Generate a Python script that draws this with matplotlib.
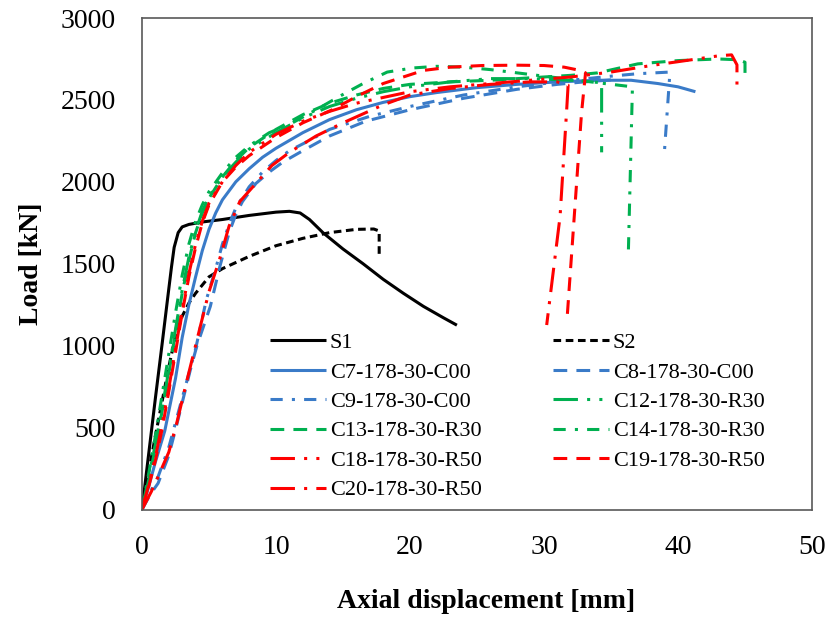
import numpy as np
import matplotlib.pyplot as plt

plt.rcParams['font.family'] = ['Liberation Serif', 'DejaVu Serif']

# curves: axial displacement [mm], load [kN]
s1_x = [0, 1, 1.5, 1.9, 2.2, 2.4, 2.7, 3, 3.5, 4.5, 6, 8, 10, 11, 11.8, 12.5, 13.5, 15, 16.5, 18, 19.5, 21, 22.5, 23.5]
s1_y = [0, 680, 1010, 1280, 1480, 1600, 1690, 1725, 1740, 1755, 1770, 1795, 1815, 1820, 1810, 1770, 1690, 1590, 1500, 1405, 1320, 1240, 1170, 1125]

s2_x = [0, 0.5, 1, 1.5, 2, 2.5, 3, 3.5, 4, 5, 6, 8, 10, 12, 14, 16, 17.3, 17.7, 17.7]
s2_y = [0, 230, 450, 660, 870, 1060, 1180, 1260, 1320, 1420, 1470, 1545, 1610, 1655, 1690, 1710, 1712, 1700, 1560]

c7_x = [0, 0.5, 1, 1.7, 2.5, 3, 3.5, 4, 4.5, 5, 5.5, 6, 7, 8, 9, 10, 12, 14, 16, 18, 20, 22, 25, 28, 31, 34, 36.5, 38.5, 40, 41.3]
c7_y = [0, 140, 290, 480, 800, 1050, 1250, 1420, 1580, 1710, 1810, 1890, 2000, 2080, 2150, 2205, 2300, 2380, 2440, 2485, 2520, 2545, 2575, 2595, 2610, 2620, 2620, 2600, 2580, 2550]

c8_x = [0, 0.6, 1.2, 2, 2.6, 3.6, 4.1, 5.1, 5.8, 6.5, 7, 7.5, 8.5, 9.5, 10.5, 12, 14, 16.7, 20, 24, 28, 31, 33, 35.5]
c8_y = [0, 90, 160, 330, 520, 850, 1000, 1240, 1480, 1690, 1800, 1880, 1990, 2060, 2120, 2190, 2280, 2370, 2440, 2510, 2565, 2595, 2610, 2625]

c9_x = [0, 0.7, 1.2, 2, 3, 4, 4.8, 5.5, 6, 6.5, 7, 8, 9, 10, 11, 12.2, 14, 17, 20, 24, 28, 32, 35, 37, 39.4, 39.0]
c9_y = [0, 120, 200, 380, 680, 980, 1280, 1470, 1620, 1740, 1840, 1970, 2060, 2130, 2190, 2240, 2320, 2400, 2460, 2530, 2580, 2620, 2645, 2660, 2670, 2200]

c12_x = [0, 0.5, 1, 1.5, 2, 2.5, 3, 3.5, 4, 4.5, 5, 6, 7, 8, 10, 12, 14, 16, 18, 20, 23, 26, 29, 32, 34.3, 34.3]
c12_y = [0, 200, 400, 620, 850, 1100, 1340, 1540, 1700, 1820, 1910, 2030, 2120, 2200, 2300, 2390, 2460, 2510, 2550, 2580, 2610, 2630, 2630, 2620, 2605, 2180]

c13_x = [0, 0.5, 1, 1.5, 2, 2.5, 3, 3.5, 4, 4.5, 5, 6, 7, 8, 10, 12, 14, 16, 18, 20, 23, 26, 29, 32, 34, 37, 40, 43, 44.5, 45, 45]
c13_y = [0, 180, 380, 600, 830, 1080, 1320, 1520, 1690, 1810, 1900, 2030, 2130, 2210, 2320, 2410, 2480, 2530, 2570, 2595, 2610, 2620, 2635, 2650, 2665, 2720, 2740, 2750, 2745, 2730, 2665]

c14_x = [0, 0.5, 1, 1.5, 2, 2.5, 3, 3.5, 4, 4.5, 5, 6, 7, 8, 9.5, 11, 13, 14.7, 16.5, 18.3, 20.2, 22, 24, 26, 28, 30, 32, 34, 36.6, 36.3]
c14_y = [0, 220, 450, 700, 950, 1200, 1430, 1620, 1760, 1860, 1940, 2055, 2150, 2220, 2300, 2350, 2440, 2520, 2600, 2670, 2695, 2705, 2700, 2685, 2665, 2645, 2625, 2605, 2580, 1585]

c18_x = [0, 0.5, 1, 1.5, 2, 2.5, 3, 3.5, 4, 4.5, 5, 6, 7, 8, 10, 12, 14, 16, 18, 20, 23, 26, 29, 32, 35, 38, 41, 43.1, 44, 44.4, 44.4]
c18_y = [0, 150, 320, 520, 740, 980, 1220, 1440, 1620, 1760, 1870, 2000, 2100, 2180, 2290, 2370, 2430, 2480, 2515, 2550, 2580, 2600, 2620, 2640, 2670, 2710, 2745, 2770, 2775, 2714, 2570]

c19_x = [0, 0.5, 1, 1.5, 2, 2.5, 3, 3.5, 4, 4.5, 5, 6, 7, 8, 10, 12, 14.2, 16, 18, 21, 23, 25.4, 28, 30, 31.5, 32.7, 33.1, 32.8, 31.7]
c19_y = [0, 140, 300, 490, 720, 960, 1200, 1420, 1600, 1750, 1860, 2000, 2090, 2160, 2270, 2360, 2440, 2520, 2600, 2680, 2700, 2710, 2712, 2710, 2700, 2680, 2665, 2420, 1140]

c20_x = [0, 0.7, 1.2, 2, 2.6, 3.3, 4.1, 5, 5.8, 6.5, 7.3, 8.5, 9.7, 11, 13, 15, 18, 20, 23, 26, 29, 31, 31.8, 31.7, 31.2, 30.2]
c20_y = [0, 110, 200, 350, 530, 770, 1035, 1330, 1530, 1730, 1880, 1990, 2100, 2180, 2280, 2360, 2470, 2530, 2570, 2595, 2610, 2610, 2590, 2450, 1790, 1126]

names = ['S1', 'S2', 'C7-178-30-C00', 'C8-178-30-C00', 'C9-178-30-C00',
         'C12-178-30-R30', 'C13-178-30-R30', 'C14-178-30-R30',
         'C18-178-30-R50', 'C19-178-30-R50', 'C20-178-30-R50']
xs = [s1_x, s2_x, c7_x, c8_x, c9_x, c12_x, c13_x, c14_x, c18_x, c19_x, c20_x]
ys = [s1_y, s2_y, c7_y, c8_y, c9_y, c12_y, c13_y, c14_y, c18_y, c19_y, c20_y]

blue = '#3A7BC8'
green = '#00B050'
red = '#FF0000'
solid = None
dash = (4.5, 3)
sqdot = (2.5, 1.5)
dashdot = (4, 3, 1, 3)
lddot = (8, 3, 1, 3, 1, 3)
ldash_dot = (8, 3, 1, 3)
colors = ['black', 'black', blue, blue, blue, green, green, green, red, red, red]
styles = [solid, sqdot, solid, dash, dashdot, lddot, dash, dashdot, lddot, dash, ldash_dot]

fig = plt.figure(figsize=(8.3, 6.21), dpi=100)
ax = fig.add_axes([142 / 830, 1 - 509.5 / 621, 670 / 830, 491.5 / 621])

lines = []
for name, x, y, c, st in zip(names, xs, ys, colors, styles):
    ln, = ax.plot(x, y, color=c, lw=2.2, label=name, solid_capstyle='butt')
    if st is not None:
        ln.set_dashes(st)
    lines.append(ln)

ax.set_xlim(0, 50)
ax.set_ylim(0, 3000)
ax.set_xticks(np.arange(0, 51, 10))
ax.set_yticks(np.arange(0, 3001, 500))
ax.tick_params(length=0, labelsize=20)
ax.tick_params(axis='x', pad=18)
ax.tick_params(axis='y', pad=19)
for sp in ax.spines.values():
    sp.set_color('#595959')
    sp.set_linewidth(1.2)

ax.set_xlabel('Axial displacement [mm]', fontsize=20, fontweight='bold')
ax.xaxis.set_label_coords(0.513, -0.162)
ax.set_ylabel('Load [kN]', fontsize=20, fontweight='bold')
ax.yaxis.set_label_coords(-0.146, 0.5)

# legend is filled row by row in the reference
order = [0, 2, 4, 6, 8, 10, 1, 3, 5, 7, 9]
ax.legend([lines[i] for i in order], [names[i] for i in order], ncol=2,
          loc='upper left', bbox_to_anchor=(0.191, 0.36), frameon=False,
          fontsize=16, borderpad=0, borderaxespad=0, handlelength=2.5,
          handletextpad=0.2, labelspacing=0.40, columnspacing=3.2)

fig.savefig('out.png', dpi=100)
